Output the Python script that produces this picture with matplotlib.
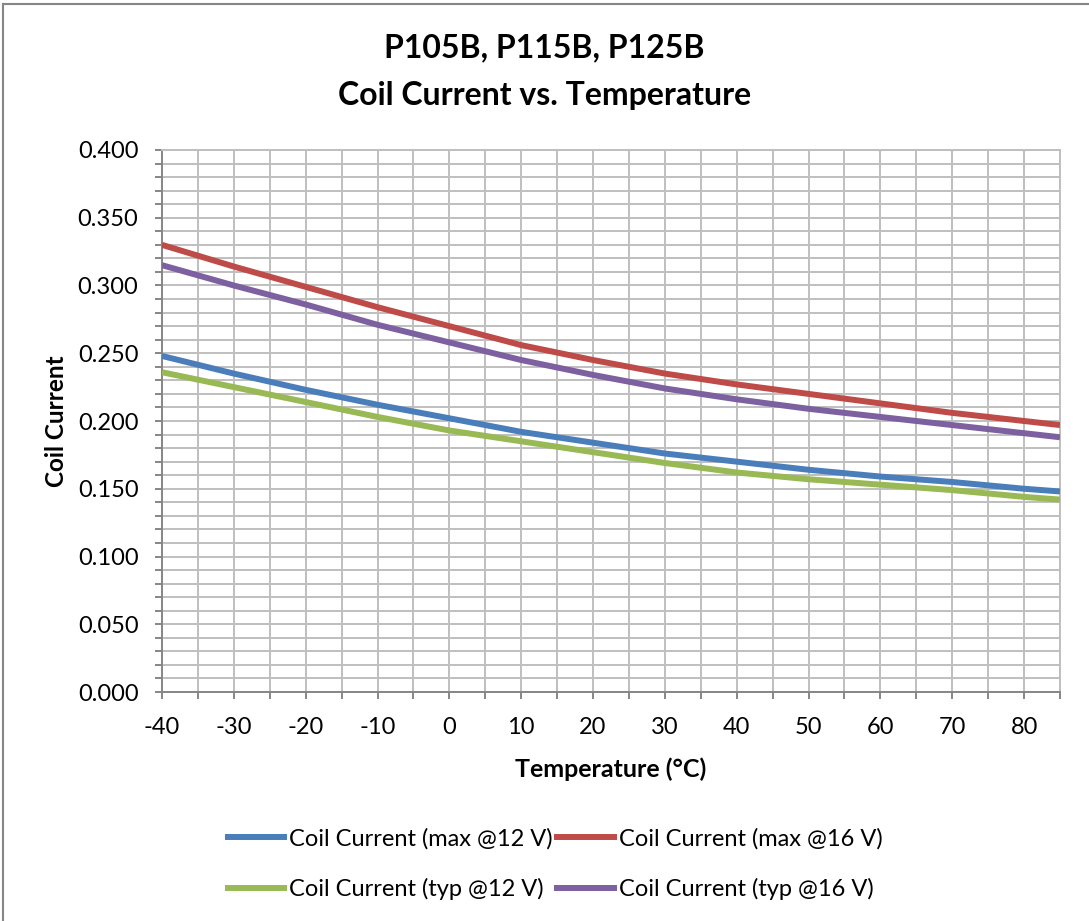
import numpy as np
import matplotlib
matplotlib.use("Agg")
import matplotlib.pyplot as plt
from matplotlib.ticker import MultipleLocator, FormatStrFormatter
from matplotlib.lines import Line2D

plt.rcParams['font.family'] = ['Lato', 'DejaVu Sans']
plt.rcParams['axes.unicode_minus'] = False

# temperature points (deg C) and read-off coil currents (A)
temps = [-40, -30, -20, -10, 0, 10, 20, 30, 40, 50, 60, 70, 80, 85]
max_12v = [0.248, 0.235, 0.223, 0.212, 0.202, 0.192, 0.184, 0.176, 0.170, 0.164, 0.159, 0.155, 0.150, 0.148]
max_16v = [0.330, 0.314, 0.299, 0.284, 0.270, 0.256, 0.245, 0.235, 0.227, 0.220, 0.213, 0.206, 0.200, 0.197]
typ_12v = [0.236, 0.225, 0.214, 0.203, 0.193, 0.185, 0.177, 0.169, 0.162, 0.157, 0.153, 0.149, 0.144, 0.142]
typ_16v = [0.315, 0.300, 0.286, 0.271, 0.258, 0.245, 0.234, 0.224, 0.216, 0.209, 0.203, 0.197, 0.191, 0.188]

series = [
    ("Coil Current (max @12 V)", max_12v, "#4A7EBB"),
    ("Coil Current (max @16 V)", max_16v, "#BE4B48"),
    ("Coil Current (typ @12 V)", typ_12v, "#98B954"),
    ("Coil Current (typ @16 V)", typ_16v, "#7D60A0"),
]

fig = plt.figure(figsize=(10.89, 9.21), dpi=100)
ax = fig.add_axes([162 / 1089, 1 - 692 / 921, (1060 - 162) / 1089, (692 - 150) / 921])

for label, vals, col in series:
    ax.plot(temps, vals, color=col, lw=4.3, label=label, solid_capstyle='butt', zorder=3)

ax.set_xlim(-40, 85)
ax.set_ylim(0, 0.4)
ax.xaxis.set_major_locator(MultipleLocator(10))
ax.xaxis.set_minor_locator(MultipleLocator(5))
ax.yaxis.set_major_locator(MultipleLocator(0.05))
ax.yaxis.set_minor_locator(MultipleLocator(0.01))
ax.yaxis.set_major_formatter(FormatStrFormatter('%.3f'))

grid_col = "#BFBFBF"
ax.grid(which='both', color=grid_col, lw=1.4, zorder=0)
ax.set_axisbelow(True)
for s in ['top', 'right']:
    ax.spines[s].set_color(grid_col)
    ax.spines[s].set_linewidth(1.4)
for s in ['left', 'bottom']:
    ax.spines[s].set_color("#868686")
    ax.spines[s].set_linewidth(1.4)

ax.tick_params(which='both', direction='out', color="#868686", width=1.4, length=5)
ax.tick_params(axis='y', which='major', labelsize=17, pad=12)
ax.tick_params(axis='x', which='major', labelsize=17, pad=13)

ax.set_xlabel("Temperature (°C)", fontsize=18, fontweight='bold', labelpad=14)
ax.set_ylabel("Coil Current", fontsize=17.5, fontweight='bold', labelpad=7)

fig.text(0.5, 1 - 48 / 921, "P105B, P115B, P125B", ha='center', va='center',
         fontsize=23, fontweight='bold')
fig.text(0.5, 1 - 96 / 921, "Coil Current vs. Temperature", ha='center', va='center',
         fontsize=23, fontweight='bold')

# legend fills column by column, so order the handles to give rows max / typ
order = [0, 2, 1, 3]
handles = [Line2D([0], [0], color=series[i][2], lw=4.3) for i in order]
labels = [series[i][0] for i in order]
fig.legend(handles, labels, loc='center', bbox_to_anchor=(555 / 1089, 1 - 864 / 921),
           ncol=2, frameon=False, fontsize=17, handlelength=2.4, handletextpad=0.2,
           columnspacing=0.2, labelspacing=1.2)

# outer chart border
fig.add_artist(Line2D([3 / 1089, 3 / 1089], [0, 1 - 4 / 921], color="#868686", lw=1.5))
fig.add_artist(Line2D([3 / 1089, 1], [1 - 4 / 921, 1 - 4 / 921], color="#868686", lw=1.5))

fig.savefig("out.png", dpi=100)
